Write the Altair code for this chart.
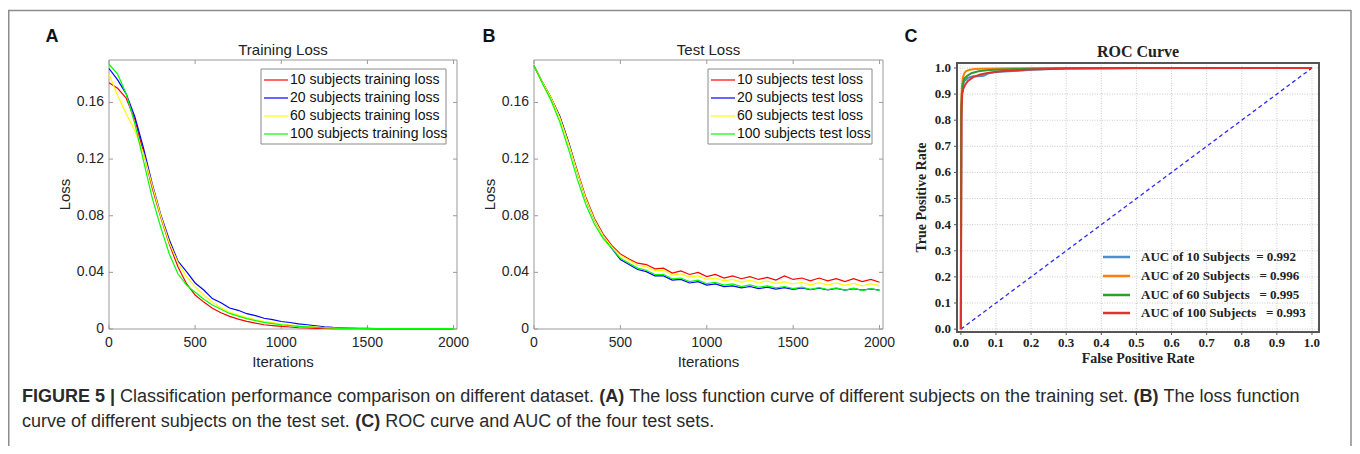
import altair as alt
import pandas as pd

# ---------------- data ----------------
iterations = list(range(0, 2001, 50))

train_labels = ["10 subjects training loss", "20 subjects training loss",
                "60 subjects training loss", "100 subjects training loss"]
test_labels = ["10 subjects test loss", "20 subjects test loss",
               "60 subjects test loss", "100 subjects test loss"]
loss_colors = ["#ff0000", "#0000ff", "#ffff00", "#00ff00"]

train_10 = [0.174, 0.170, 0.163, 0.148, 0.125, 0.100, 0.079, 0.060, 0.044, 0.032,
            0.024, 0.019, 0.0147, 0.0115, 0.0089, 0.0070, 0.0054, 0.0041, 0.0030, 0.0024,
            0.0019, 0.0014, 0.0009, 0.0007, 0.0005, 0.0004, 0.0003, 0.0002, 0.0002, 0.0002,
            0.0001, 0.0001, 0.0001, 0.0001, 0.0001, 0.0001, 0.0001, 0.0001, 0.0001, 0.0001, 0.0001]
train_20 = [0.184, 0.176, 0.166, 0.150, 0.128, 0.103, 0.081, 0.063, 0.048, 0.0405,
            0.0325, 0.0275, 0.0215, 0.0185, 0.0148, 0.0132, 0.0108, 0.0094, 0.0076, 0.0066,
            0.0053, 0.0046, 0.0036, 0.0030, 0.0023, 0.0016, 0.0011, 0.0008, 0.0006, 0.0005,
            0.0004, 0.0003, 0.0003, 0.0003, 0.0002, 0.0002, 0.0002, 0.0002, 0.0002, 0.0002, 0.0002]
train_60 = [0.180, 0.165, 0.152, 0.140, 0.124, 0.102, 0.080, 0.061, 0.047, 0.037,
            0.030, 0.024, 0.019, 0.015, 0.012, 0.0098, 0.0080, 0.0066, 0.0054, 0.0045,
            0.0037, 0.0030, 0.0023, 0.0018, 0.0014, 0.0010, 0.0007, 0.0005, 0.0004, 0.0003,
            0.0003, 0.0002, 0.0002, 0.0002, 0.0002, 0.0002, 0.0002, 0.0002, 0.0002, 0.0002, 0.0002]
train_100 = [0.187, 0.180, 0.166, 0.145, 0.119, 0.093, 0.072, 0.053, 0.039, 0.031,
             0.026, 0.021, 0.017, 0.014, 0.011, 0.0091, 0.0073, 0.0059, 0.0047, 0.0038,
             0.0030, 0.0024, 0.0019, 0.0015, 0.0012, 0.0009, 0.0007, 0.0005, 0.0004, 0.0003,
             0.0003, 0.0002, 0.0002, 0.0002, 0.0002, 0.0002, 0.0002, 0.0002, 0.0002, 0.0002, 0.0002]

test_10 = [0.186, 0.174, 0.163, 0.150, 0.132, 0.112, 0.093, 0.078, 0.067, 0.059, 0.053,
           0.0495, 0.0465, 0.0455, 0.0425, 0.0430, 0.0395, 0.0410, 0.0385, 0.0400, 0.0370,
           0.0385, 0.0360, 0.0375, 0.0355, 0.0370, 0.0350, 0.0365, 0.0345, 0.0375, 0.0350,
           0.0360, 0.0340, 0.0360, 0.0340, 0.0355, 0.0335, 0.0355, 0.0335, 0.0350, 0.0330]
test_20 = [0.186, 0.174, 0.163, 0.150, 0.132, 0.111, 0.092, 0.077, 0.066, 0.057, 0.049,
           0.0455, 0.0420, 0.0405, 0.0375, 0.0375, 0.0345, 0.0350, 0.0325, 0.0335, 0.0310,
           0.0318, 0.0300, 0.0305, 0.0290, 0.0300, 0.0285, 0.0295, 0.0282, 0.0292, 0.0280,
           0.0290, 0.0278, 0.0288, 0.0276, 0.0286, 0.0275, 0.0285, 0.0274, 0.0284, 0.0275]
test_60 = [0.186, 0.174, 0.163, 0.149, 0.131, 0.111, 0.092, 0.077, 0.066, 0.058, 0.052,
           0.0485, 0.0450, 0.0440, 0.0410, 0.0415, 0.0380, 0.0390, 0.0365, 0.0375, 0.0350,
           0.0360, 0.0340, 0.0350, 0.0330, 0.0345, 0.0325, 0.0340, 0.0320, 0.0335, 0.0318,
           0.0330, 0.0312, 0.0328, 0.0310, 0.0325, 0.0308, 0.0322, 0.0305, 0.0320, 0.0305]
test_100 = [0.186, 0.173, 0.161, 0.146, 0.127, 0.106, 0.088, 0.074, 0.064, 0.057, 0.050,
            0.0465, 0.0430, 0.0415, 0.0385, 0.0385, 0.0355, 0.0360, 0.0335, 0.0345, 0.0320,
            0.0330, 0.0310, 0.0318, 0.0300, 0.0312, 0.0295, 0.0305, 0.0290, 0.0300, 0.0285,
            0.0295, 0.0280, 0.0292, 0.0278, 0.0290, 0.0275, 0.0288, 0.0272, 0.0285, 0.0272]

roc_labels = ["AUC of 10 Subjects\u00a0\u00a0= 0.992",
              "AUC of 20 Subjects\u00a0\u00a0\u00a0= 0.996",
              "AUC of 60 Subjects\u00a0\u00a0\u00a0= 0.995",
              "AUC of 100 Subjects\u00a0\u00a0\u00a0= 0.993"]
roc_colors = ["#4a90d0", "#ff7f0e", "#2ca02c", "#e03030"]
fpr_10 = [0.0, 0.001, 0.003, 0.006, 0.010, 0.020, 0.035, 0.050, 0.065, 0.080, 0.10, 0.15, 0.20, 0.30, 0.50, 1.0]
tpr_10 = [0.0, 0.80, 0.90, 0.935, 0.950, 0.962, 0.968, 0.968, 0.970, 0.980, 0.985, 0.988, 0.993, 0.998, 1.0, 1.0]
fpr_20 = [0.0, 0.001, 0.003, 0.006, 0.010, 0.015, 0.025, 0.040, 0.06, 0.10, 0.20, 0.30, 1.0]
tpr_20 = [0.0, 0.85, 0.93, 0.965, 0.980, 0.988, 0.993, 0.996, 0.997, 0.998, 0.999, 1.0, 1.0]
fpr_60 = [0.0, 0.001, 0.003, 0.006, 0.010, 0.020, 0.030, 0.050, 0.080, 0.12, 0.20, 0.30, 1.0]
tpr_60 = [0.0, 0.82, 0.90, 0.94, 0.960, 0.972, 0.980, 0.987, 0.992, 0.994, 0.997, 0.999, 1.0]
fpr_100 = [0.0, 0.001, 0.002, 0.004, 0.007, 0.012, 0.020, 0.035, 0.055, 0.080, 0.12, 0.20, 0.30, 0.50, 1.0]
tpr_100 = [0.0, 0.40, 0.85, 0.90, 0.92, 0.935, 0.950, 0.965, 0.975, 0.982, 0.988, 0.994, 0.998, 1.0, 1.0]
chance_fpr = [0.0, 1.0]
chance_tpr = [0.0, 1.0]

loss_xticks = [0, 500, 1000, 1500, 2000]
loss_yticks = [0, 0.04, 0.08, 0.12, 0.16]
roc_ticks = [0.0, 0.1, 0.2, 0.3, 0.4, 0.5, 0.6, 0.7, 0.8, 0.9, 1.0]

caption_line1 = [("FIGURE 5 |", True),
                 (" Classification performance comparison on different dataset. ", False),
                 ("(A)", True),
                 (" The loss function curve of different subjects on the training set. ", False),
                 ("(B)", True),
                 (" The loss function", False)]
caption_line2 = [("curve of different subjects on the test set. ", False),
                 ("(C)", True),
                 (" ROC curve and AUC of the four test sets.", False)]

# ---------------- layout ----------------
W, H = 1344, 438
SANS = "Liberation Sans"
SERIF = "Liberation Serif"
AL, AR = 101, 449
BL, BR = 526, 875
LT, LB = 52, 321
CL, CR, CT, CB = 949, 1311, 55, 324
AXC = "#262626"

dummy = pd.DataFrame({"k": [0]})


def long_df(xs, series, labels):
    rows = []
    for k, (lab, ys) in enumerate(zip(labels, series)):
        for x, y in zip(xs, ys):
            rows.append({"x": x, "y": y, "series": lab, "k": k})
    return pd.DataFrame(rows)


def label_text(txt, x, y, size, weight="normal", font=SANS, color="#222", align="center", angle=0):
    return alt.Chart(dummy).mark_text(font=font, fontSize=size, fontWeight=weight, color=color,
                                      align=align, baseline="middle", angle=angle).encode(
        x=alt.value(x), y=alt.value(y), text=alt.value(txt))


def hrule(x1, x2, y, color, width=1.0, dash=None):
    kw = dict(color=color, strokeWidth=width)
    if dash:
        kw["strokeDash"] = dash
    return alt.Chart(dummy).mark_rule(**kw).encode(x=alt.value(x1), x2=alt.value(x2), y=alt.value(y))


def manual_legend(labels, colors, sym_x0, sym_x1, text_x, rows_y, size, font, weight, line_w, color):
    out = []
    for lab, col, yy in zip(labels, colors, rows_y):
        out.append(hrule(sym_x0, sym_x1, yy, col, line_w))
        out.append(label_text(lab, text_x, yy, size, weight=weight, font=font, color=color, align="left"))
    return out


def loss_panel(df, labels, L, R, title, box_x0, box_x1):
    xs = alt.Scale(domain=[0, 2020], range=[L, R], nice=False, zero=False)
    ys = alt.Scale(domain=[0, 0.19], range=[LB, LT], nice=False, zero=False)
    lines = alt.Chart(df).mark_line(strokeWidth=1.2).encode(
        x=alt.X("x:Q", scale=xs, axis=None),
        y=alt.Y("y:Q", scale=ys, axis=None),
        color=alt.Color("series:N", scale=alt.Scale(domain=labels, range=loss_colors), legend=None),
    )
    frame = alt.Chart(dummy).mark_rect(filled=False, stroke="#9a9a9a", strokeWidth=1).encode(
        x=alt.value(L), x2=alt.value(R), y=alt.value(LT), y2=alt.value(LB))
    xt = pd.DataFrame({"v": loss_xticks, "lab": [str(v) for v in loss_xticks]})
    yt = pd.DataFrame({"v": loss_yticks, "lab": [("%g" % v) for v in loss_yticks]})
    tb = alt.Chart(xt).mark_rule(color="#9a9a9a").encode(
        x=alt.X("v:Q", scale=xs, axis=None), y=alt.value(LB), y2=alt.value(LB - 4))
    tt = alt.Chart(xt).mark_rule(color="#9a9a9a").encode(
        x=alt.X("v:Q", scale=xs, axis=None), y=alt.value(LT), y2=alt.value(LT + 4))
    tl = alt.Chart(yt).mark_rule(color="#9a9a9a").encode(
        y=alt.Y("v:Q", scale=ys, axis=None), x=alt.value(L), x2=alt.value(L + 4))
    tr = alt.Chart(yt).mark_rule(color="#9a9a9a").encode(
        y=alt.Y("v:Q", scale=ys, axis=None), x=alt.value(R), x2=alt.value(R - 4))
    xl = alt.Chart(xt).mark_text(font=SANS, fontSize=14, color=AXC, baseline="middle").encode(
        x=alt.X("v:Q", scale=xs, axis=None), y=alt.value(LB + 14), text="lab:N")
    yl = alt.Chart(yt).mark_text(font=SANS, fontSize=14, color=AXC, baseline="middle",
                                 align="right").encode(
        y=alt.Y("v:Q", scale=ys, axis=None), x=alt.value(L - 5), text="lab:N")
    xtitle = label_text("Iterations", (L + R) / 2, LB + 33, 15, color=AXC)
    ytitle = label_text("Loss", L - 44, (LT + LB) / 2, 15, color=AXC, angle=270)
    ttl = label_text(title, (L + R) / 2, 42, 15, color="#222")
    box = alt.Chart(dummy).mark_rect(fill="white", stroke="#8a8a8a", strokeWidth=1).encode(
        x=alt.value(box_x0), x2=alt.value(box_x1), y=alt.value(61), y2=alt.value(136))
    leg = manual_legend(labels, loss_colors, box_x0 + 3, box_x0 + 27, box_x0 + 29,
                        [72, 90, 108, 126], 14, SANS, "normal", 1.2, "#111")
    return alt.layer(frame, tb, tt, tl, tr, lines, xl, yl, xtitle, ytitle, ttl, box, *leg)


train_df = long_df(iterations, [train_10, train_20, train_60, train_100], train_labels)
test_df = long_df(iterations, [test_10, test_20, test_60, test_100], test_labels)

panelA = loss_panel(train_df, train_labels, AL, AR, "Training Loss", 253, 438)
panelB = loss_panel(test_df, test_labels, BL, BR, "Test Loss", 700, 864)

# ---------------- ROC panel ----------------
roc_rows = []
for k, (lab, fx, ty) in enumerate(zip(roc_labels, [fpr_10, fpr_20, fpr_60, fpr_100],
                                      [tpr_10, tpr_20, tpr_60, tpr_100])):
    for a, b in zip(fx, ty):
        roc_rows.append({"fpr": a, "tpr": b, "series": lab, "k": k})
roc_df = pd.DataFrame(roc_rows)

xs_c = alt.Scale(domain=[-0.011, 1.02], range=[CL, CR], nice=False, zero=False)
ys_c = alt.Scale(domain=[-0.011, 1.019], range=[CB, CT], nice=False, zero=False)
rt = pd.DataFrame({"v": roc_ticks, "lab": ["%.1f" % v for v in roc_ticks]})
grid_v = alt.Chart(rt).mark_rule(color="#c4c4c4", strokeDash=[1, 1.5], strokeWidth=0.9).encode(
    x=alt.X("v:Q", scale=xs_c, axis=None), y=alt.value(CT), y2=alt.value(CB))
grid_h = alt.Chart(rt).mark_rule(color="#c4c4c4", strokeDash=[1, 1.5], strokeWidth=0.9).encode(
    y=alt.Y("v:Q", scale=ys_c, axis=None), x=alt.value(CL), x2=alt.value(CR))
tick_b = alt.Chart(rt).mark_rule(color="#555").encode(
    x=alt.X("v:Q", scale=xs_c, axis=None), y=alt.value(CB), y2=alt.value(CB + 3))
tick_l = alt.Chart(rt).mark_rule(color="#555").encode(
    y=alt.Y("v:Q", scale=ys_c, axis=None), x=alt.value(CL - 3), x2=alt.value(CL))
lab_b = alt.Chart(rt).mark_text(font=SERIF, fontWeight="bold", fontSize=13, color="#222",
                                baseline="middle").encode(
    x=alt.X("v:Q", scale=xs_c, axis=None), y=alt.value(CB + 11), text="lab:N")
lab_l = alt.Chart(rt).mark_text(font=SERIF, fontWeight="bold", fontSize=13, color="#222",
                                baseline="middle", align="right").encode(
    y=alt.Y("v:Q", scale=ys_c, axis=None), x=alt.value(CL - 6), text="lab:N")
diag = alt.Chart(pd.DataFrame({"fpr": chance_fpr, "tpr": chance_tpr})).mark_line(
    color="#2a2aff", strokeDash=[4, 3], strokeWidth=1.3).encode(
    x=alt.X("fpr:Q", scale=xs_c, axis=None), y=alt.Y("tpr:Q", scale=ys_c, axis=None))
roc_lines = alt.Chart(roc_df).mark_line(strokeWidth=2).encode(
    x=alt.X("fpr:Q", scale=xs_c, axis=None),
    y=alt.Y("tpr:Q", scale=ys_c, axis=None),
    color=alt.Color("series:N", scale=alt.Scale(domain=roc_labels, range=roc_colors), legend=None),
)
frame_c = alt.Chart(dummy).mark_rect(filled=False, stroke="#555", strokeWidth=2).encode(
    x=alt.value(CL), x2=alt.value(CR), y=alt.value(CT), y2=alt.value(CB))
title_c = label_text("ROC Curve", (CL + CR) / 2, 44, 16, weight="bold", font=SERIF, color="#222")
xtitle_c = label_text("False Positive Rate", (CL + CR) / 2, 351, 14, weight="bold", font=SERIF, color="#222")
ytitle_c = label_text("True Positive Rate", 914, (CT + CB) / 2, 14, weight="bold", font=SERIF,
                      color="#222", angle=270)
leg_c = manual_legend(roc_labels, roc_colors, 1095, 1122, 1133, [249, 268, 287, 305], 13, SERIF,
                      "bold", 2.5, "#222")
panelC = alt.layer(grid_v, grid_h, tick_b, tick_l, diag, roc_lines, frame_c, lab_b, lab_l,
                   title_c, xtitle_c, ytitle_c, *leg_c)

# ---------------- letters, border, caption ----------------
REG = {" ": 278, ".": 278, "(": 333, ")": 333, "|": 260}
REG.update({d: 556 for d in "0123456789"})
REG.update(dict(zip("ABCDEFGHIJKLMNOPQRSTUVWXYZ",
                    [667, 667, 722, 722, 667, 611, 778, 722, 278, 500, 667, 556, 833, 722, 778,
                     667, 778, 722, 667, 611, 722, 667, 944, 667, 667, 611])))
REG.update(dict(zip("abcdefghijklmnopqrstuvwxyz",
                    [556, 556, 500, 556, 556, 278, 556, 556, 222, 222, 500, 222, 833, 556, 556,
                     556, 556, 333, 500, 278, 556, 500, 722, 500, 500, 500])))
BOLD = {" ": 278, ".": 278, "(": 333, ")": 333, "|": 280}
BOLD.update({d: 556 for d in "0123456789"})
BOLD.update(dict(zip("ABCDEFGHIJKLMNOPQRSTUVWXYZ",
                     [722, 722, 722, 722, 667, 611, 778, 722, 278, 556, 722, 611, 833, 722, 778,
                      667, 778, 722, 667, 611, 722, 667, 944, 667, 667, 611])))

CAP_SIZE = 18


def tw(s, bold):
    t = BOLD if bold else REG
    return sum(t.get(c, 556) for c in s) * CAP_SIZE / 1000.0


def caption_layers(segments, x0, y):
    out = []
    x = x0
    for s, bold in segments:
        lead = len(s) - len(s.lstrip(" "))
        out.append(label_text(s.strip(), x + tw(" " * lead, bold), y, CAP_SIZE,
                              weight="bold" if bold else "normal", color="#2a2a2a", align="left"))
        x += tw(s, bold)
    return out


extras = [
    label_text("A", 44, 29, 18, weight="bold", color="#111"),
    label_text("B", 481, 29, 18, weight="bold", color="#111"),
    label_text("C", 903, 29, 18, weight="bold", color="#111"),
    alt.Chart(dummy).mark_rule(color="#8c8c8c", strokeWidth=1.5).encode(
        x=alt.value(0.75), y=alt.value(2), y2=alt.value(H)),
    alt.Chart(dummy).mark_rule(color="#8c8c8c", strokeWidth=1.5).encode(
        x=alt.value(0), x2=alt.value(W - 1), y=alt.value(2.5)),
    alt.Chart(dummy).mark_rule(color="#8c8c8c", strokeWidth=1.5).encode(
        x=alt.value(W - 1), y=alt.value(2), y2=alt.value(H)),
]
extras += caption_layers(caption_line1, 14, 389)
extras += caption_layers(caption_line2, 14, 414)

chart = alt.layer(panelA, panelB, panelC, *extras).resolve_scale(
    x="independent", y="independent", color="independent"
).properties(
    width=W, height=H, autosize=alt.AutoSizeParams(type="none"), padding=0
).configure_view(strokeWidth=0)

chart.save("out.html", embed_options={"renderer": "svg", "actions": False})
